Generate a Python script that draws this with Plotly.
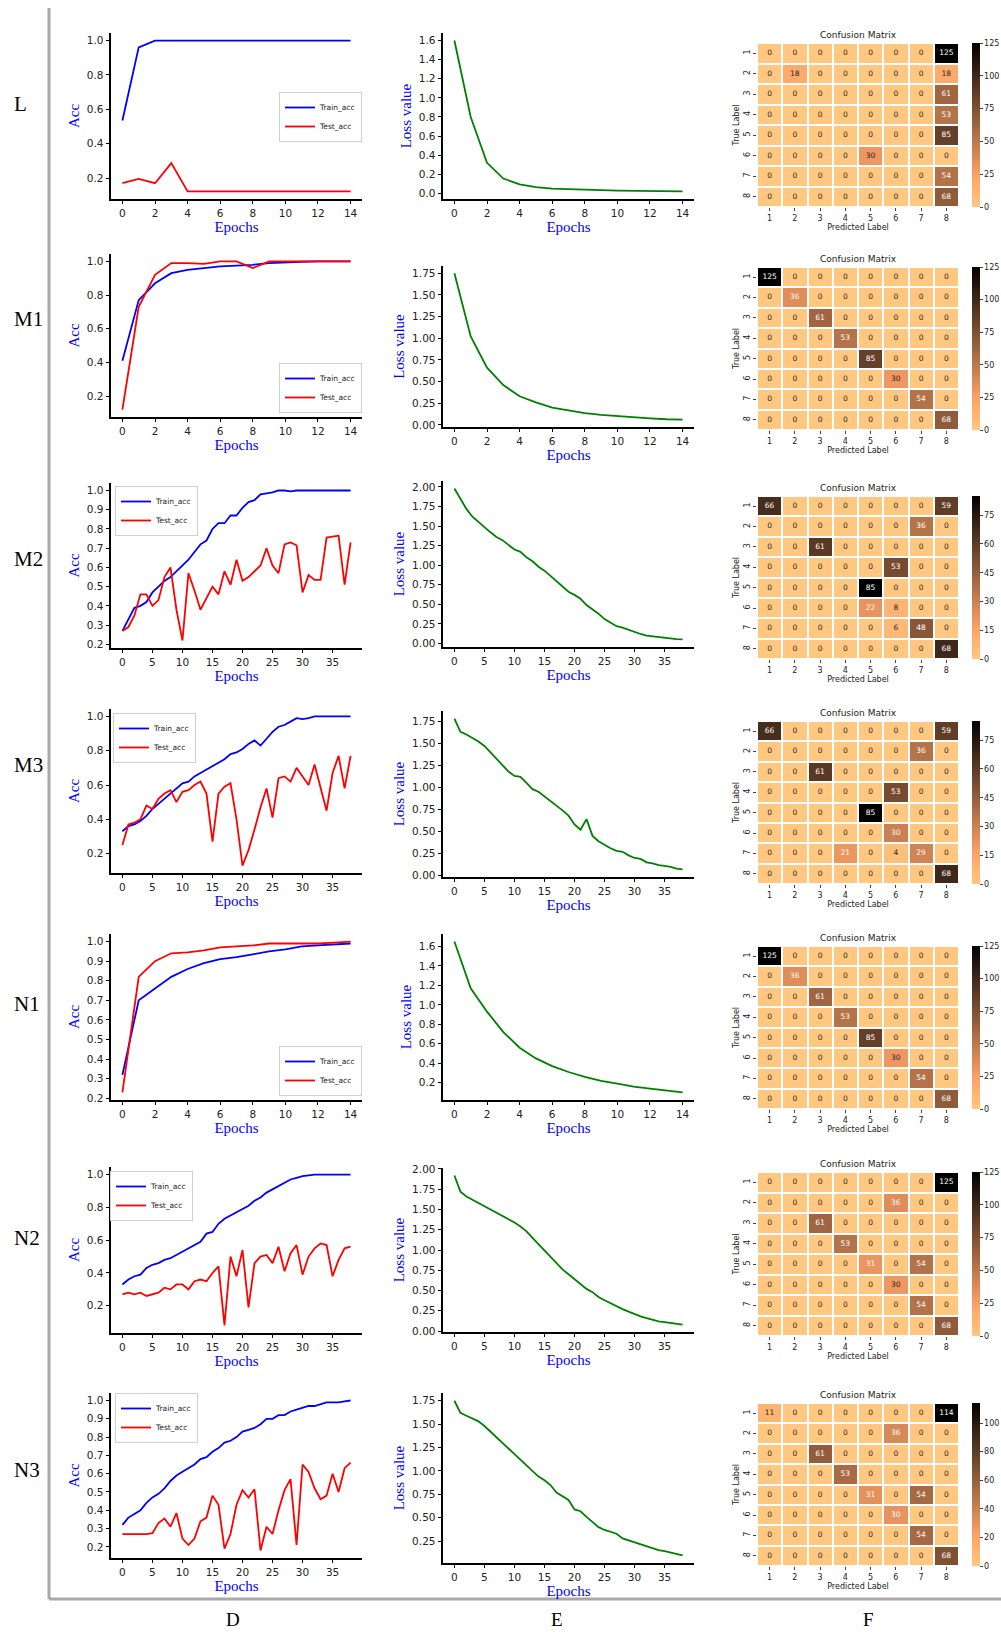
import plotly.graph_objects as go

# ---------------------------------------------------------------- data
row_labels = ["L", "M1", "M2", "M3", "N1", "N2", "N3"]
column_labels = ["D", "E", "F"]
class_labels = ["1", "2", "3", "4", "5", "6", "7", "8"]

l_train_acc = [0.535, 0.96, 1.0, 1.0, 1.0, 1.0, 1.0, 1.0, 1.0, 1.0, 1.0, 1.0, 1.0, 1.0, 1.0]
l_test_acc = [0.17, 0.195, 0.17, 0.287, 0.122, 0.122, 0.122, 0.122, 0.122, 0.122, 0.122, 0.122, 0.122, 0.122, 0.122]
l_loss = [1.60, 0.80, 0.32, 0.155, 0.095, 0.065, 0.05, 0.042, 0.037, 0.033, 0.028, 0.026, 0.023, 0.021, 0.02]

m1_train_acc = [0.41, 0.77, 0.87, 0.93, 0.95, 0.96, 0.97, 0.975, 0.98, 0.99, 0.995, 0.998, 1.0, 1.0, 1.0]
m1_test_acc = [0.12, 0.73, 0.92, 0.99, 0.99, 0.985, 1.0, 1.0, 0.96, 1.0, 1.0, 1.0, 1.0, 1.0, 1.0]
m1_loss = [1.75, 1.02, 0.66, 0.46, 0.33, 0.26, 0.20, 0.17, 0.135, 0.115, 0.10, 0.085, 0.075, 0.065, 0.06]

m2_train_acc = [0.27, 0.33, 0.39, 0.40, 0.42, 0.47, 0.50, 0.53, 0.55, 0.58, 0.61, 0.64, 0.68, 0.72, 0.74,
                0.80, 0.83, 0.83, 0.87, 0.87, 0.91, 0.94, 0.95, 0.98, 0.985, 0.99, 1.0, 1.0, 0.995, 1.0,
                1.0, 1.0, 0.998, 1.0, 1.0, 1.0, 0.998, 1.0, 1.0]
m2_test_acc = [0.27, 0.29, 0.35, 0.46, 0.46, 0.40, 0.43, 0.55, 0.60, 0.38, 0.22, 0.57, 0.48, 0.38, 0.44,
               0.50, 0.46, 0.58, 0.51, 0.64, 0.53, 0.55, 0.58, 0.61, 0.70, 0.61, 0.57, 0.72, 0.73, 0.715,
               0.47, 0.56, 0.535, 0.535, 0.755, 0.76, 0.765, 0.51, 0.73]
m2_loss = [1.98, 1.85, 1.72, 1.62, 1.55, 1.48, 1.42, 1.36, 1.32, 1.26, 1.20, 1.17, 1.10, 1.05, 0.98,
           0.93, 0.86, 0.79, 0.72, 0.66, 0.62, 0.57, 0.49, 0.44, 0.38, 0.31, 0.26, 0.22, 0.20, 0.17,
           0.14, 0.12, 0.10, 0.09, 0.08, 0.07, 0.06, 0.055, 0.05]

m3_train_acc = [0.33, 0.36, 0.37, 0.39, 0.42, 0.46, 0.49, 0.52, 0.55, 0.58, 0.61, 0.62, 0.65, 0.67, 0.69,
                0.71, 0.73, 0.75, 0.78, 0.79, 0.81, 0.84, 0.86, 0.83, 0.87, 0.91, 0.94, 0.95, 0.97, 0.99,
                0.985, 0.99, 1.0, 1.0, 1.0, 1.0, 1.0, 1.0, 1.0]
m3_test_acc = [0.25, 0.37, 0.38, 0.40, 0.48, 0.46, 0.52, 0.55, 0.57, 0.50, 0.56, 0.57, 0.60, 0.62, 0.55,
               0.27, 0.55, 0.59, 0.61, 0.40, 0.13, 0.22, 0.34, 0.47, 0.58, 0.41, 0.64, 0.65, 0.62, 0.70,
               0.65, 0.60, 0.72, 0.58, 0.45, 0.67, 0.77, 0.58, 0.77]
m3_loss = [1.78, 1.63, 1.60, 1.56, 1.52, 1.47, 1.40, 1.33, 1.25, 1.18, 1.13, 1.12, 1.05, 0.98, 0.95,
           0.90, 0.85, 0.79, 0.74, 0.68, 0.58, 0.52, 0.64, 0.45, 0.39, 0.35, 0.31, 0.28, 0.27, 0.23,
           0.20, 0.19, 0.15, 0.14, 0.12, 0.11, 0.10, 0.08, 0.07]

n1_train_acc = [0.32, 0.70, 0.76, 0.82, 0.86, 0.89, 0.91, 0.92, 0.935, 0.95, 0.96, 0.975, 0.98, 0.985, 0.99]
n1_test_acc = [0.23, 0.82, 0.90, 0.94, 0.945, 0.955, 0.97, 0.975, 0.98, 0.99, 0.99, 0.99, 0.99, 0.995, 1.0]
n1_loss = [1.65, 1.17, 0.93, 0.72, 0.56, 0.45, 0.37, 0.31, 0.26, 0.22, 0.19, 0.16, 0.14, 0.12, 0.10]

n2_train_acc = [0.33, 0.36, 0.38, 0.39, 0.43, 0.45, 0.46, 0.48, 0.49, 0.51, 0.53, 0.55, 0.57, 0.59, 0.64,
                0.65, 0.70, 0.73, 0.75, 0.77, 0.79, 0.81, 0.84, 0.86, 0.89, 0.91, 0.93, 0.95, 0.97, 0.98,
                0.99, 0.995, 1.0, 1.0, 1.0, 1.0, 1.0, 1.0, 1.0]
n2_test_acc = [0.27, 0.28, 0.27, 0.28, 0.26, 0.27, 0.28, 0.31, 0.30, 0.33, 0.33, 0.30, 0.35, 0.36, 0.35,
               0.40, 0.44, 0.08, 0.50, 0.38, 0.54, 0.19, 0.46, 0.50, 0.51, 0.46, 0.56, 0.41, 0.52, 0.57,
               0.39, 0.50, 0.55, 0.58, 0.57, 0.38, 0.48, 0.55, 0.56]
n2_loss = [1.92, 1.72, 1.66, 1.62, 1.58, 1.55, 1.51, 1.47, 1.43, 1.38, 1.34, 1.29, 1.23, 1.15, 1.07,
           0.99, 0.91, 0.84, 0.76, 0.70, 0.64, 0.58, 0.52, 0.48, 0.42, 0.38, 0.34, 0.30, 0.27, 0.24,
           0.21, 0.18, 0.16, 0.14, 0.12, 0.11, 0.10, 0.09, 0.08]

n3_train_acc = [0.32, 0.36, 0.38, 0.40, 0.44, 0.47, 0.49, 0.52, 0.56, 0.59, 0.61, 0.63, 0.65, 0.68, 0.69,
                0.72, 0.74, 0.77, 0.78, 0.80, 0.83, 0.84, 0.85, 0.87, 0.90, 0.90, 0.92, 0.92, 0.94, 0.95,
                0.96, 0.97, 0.97, 0.98, 0.99, 0.99, 0.99, 0.995, 1.0]
n3_test_acc = [0.27, 0.27, 0.27, 0.27, 0.27, 0.275, 0.33, 0.355, 0.31, 0.385, 0.245, 0.21, 0.245, 0.34, 0.36,
               0.48, 0.43, 0.19, 0.27, 0.43, 0.51, 0.47, 0.515, 0.18, 0.31, 0.27, 0.40, 0.51, 0.57, 0.21,
               0.65, 0.61, 0.52, 0.46, 0.48, 0.60, 0.50, 0.63, 0.66]
n3_loss = [1.75, 1.62, 1.59, 1.56, 1.53, 1.48, 1.42, 1.36, 1.30, 1.23, 1.17, 1.12, 1.05, 0.99, 0.94,
           0.90, 0.85, 0.77, 0.73, 0.69, 0.59, 0.57, 0.51, 0.46, 0.40, 0.37, 0.35, 0.33, 0.28, 0.26,
           0.24, 0.22, 0.20, 0.18, 0.155, 0.145, 0.13, 0.115, 0.10]

cm_l = [[0, 0, 0, 0, 0, 0, 0, 125], [0, 18, 0, 0, 0, 0, 0, 18], [0, 0, 0, 0, 0, 0, 0, 61],
        [0, 0, 0, 0, 0, 0, 0, 53], [0, 0, 0, 0, 0, 0, 0, 85], [0, 0, 0, 0, 30, 0, 0, 0],
        [0, 0, 0, 0, 0, 0, 0, 54], [0, 0, 0, 0, 0, 0, 0, 68]]
cm_m1 = [[125, 0, 0, 0, 0, 0, 0, 0], [0, 36, 0, 0, 0, 0, 0, 0], [0, 0, 61, 0, 0, 0, 0, 0],
         [0, 0, 0, 53, 0, 0, 0, 0], [0, 0, 0, 0, 85, 0, 0, 0], [0, 0, 0, 0, 0, 30, 0, 0],
         [0, 0, 0, 0, 0, 0, 54, 0], [0, 0, 0, 0, 0, 0, 0, 68]]
cm_m2 = [[66, 0, 0, 0, 0, 0, 0, 59], [0, 0, 0, 0, 0, 0, 36, 0], [0, 0, 61, 0, 0, 0, 0, 0],
         [0, 0, 0, 0, 0, 53, 0, 0], [0, 0, 0, 0, 85, 0, 0, 0], [0, 0, 0, 0, 22, 8, 0, 0],
         [0, 0, 0, 0, 0, 6, 48, 0], [0, 0, 0, 0, 0, 0, 0, 68]]
cm_m3 = [[66, 0, 0, 0, 0, 0, 0, 59], [0, 0, 0, 0, 0, 0, 36, 0], [0, 0, 61, 0, 0, 0, 0, 0],
         [0, 0, 0, 0, 0, 53, 0, 0], [0, 0, 0, 0, 85, 0, 0, 0], [0, 0, 0, 0, 0, 30, 0, 0],
         [0, 0, 0, 21, 0, 4, 29, 0], [0, 0, 0, 0, 0, 0, 0, 68]]
cm_n1 = [[125, 0, 0, 0, 0, 0, 0, 0], [0, 36, 0, 0, 0, 0, 0, 0], [0, 0, 61, 0, 0, 0, 0, 0],
         [0, 0, 0, 53, 0, 0, 0, 0], [0, 0, 0, 0, 85, 0, 0, 0], [0, 0, 0, 0, 0, 30, 0, 0],
         [0, 0, 0, 0, 0, 0, 54, 0], [0, 0, 0, 0, 0, 0, 0, 68]]
cm_n2 = [[0, 0, 0, 0, 0, 0, 0, 125], [0, 0, 0, 0, 0, 36, 0, 0], [0, 0, 61, 0, 0, 0, 0, 0],
         [0, 0, 0, 53, 0, 0, 0, 0], [0, 0, 0, 0, 31, 0, 54, 0], [0, 0, 0, 0, 0, 30, 0, 0],
         [0, 0, 0, 0, 0, 0, 54, 0], [0, 0, 0, 0, 0, 0, 0, 68]]
cm_n3 = [[11, 0, 0, 0, 0, 0, 0, 114], [0, 0, 0, 0, 0, 36, 0, 0], [0, 0, 61, 0, 0, 0, 0, 0],
         [0, 0, 0, 53, 0, 0, 0, 0], [0, 0, 0, 0, 31, 0, 54, 0], [0, 0, 0, 0, 0, 30, 0, 0],
         [0, 0, 0, 0, 0, 0, 54, 0], [0, 0, 0, 0, 0, 0, 0, 68]]

train_accs = [l_train_acc, m1_train_acc, m2_train_acc, m3_train_acc, n1_train_acc, n2_train_acc, n3_train_acc]
test_accs = [l_test_acc, m1_test_acc, m2_test_acc, m3_test_acc, n1_test_acc, n2_test_acc, n3_test_acc]
losses = [l_loss, m1_loss, m2_loss, m3_loss, n1_loss, n2_loss, n3_loss]
matrices = [cm_l, cm_m1, cm_m2, cm_m3, cm_n1, cm_n2, cm_n3]

# ---------------------------------------------------------------- layout / style
W, H = 1001, 1632
ACC_X = (111, 362)
LOSS_X = (443, 694)
HEAT_X = (757, 959)
CBAR_X = 972

# leg = (x, y, xanchor, yanchor) in pixels
geom = [
    dict(acc=(33, 199), loss=(33, 199), heat=(43, 207), lab=104, leg=(362, 117, "right", "middle"), acc_dt=0.2, loss_dt=0.2, cb_dt=25),
    dict(acc=(254, 417), loss=(266, 427), heat=(267, 430), lab=319, leg=(362, 413, "right", "bottom"), acc_dt=0.2, loss_dt=0.25, cb_dt=25),
    dict(acc=(483, 648), loss=(481, 647), heat=(496, 659), lab=559, leg=(115, 486, "left", "top"), acc_dt=0.1, loss_dt=0.25, cb_dt=15),
    dict(acc=(709, 873), loss=(711, 877), heat=(721, 884), lab=765, leg=(113, 713, "left", "top"), acc_dt=0.2, loss_dt=0.25, cb_dt=15),
    dict(acc=(934, 1100), loss=(934, 1100), heat=(946, 1109), lab=1004, leg=(362, 1096, "right", "bottom"), acc_dt=0.1, loss_dt=0.2, cb_dt=25),
    dict(acc=(1167, 1333), loss=(1168, 1332), heat=(1172, 1336), lab=1238, leg=(110, 1171, "left", "top"), acc_dt=0.2, loss_dt=0.25, cb_dt=25),
    dict(acc=(1393, 1558), loss=(1393, 1563), heat=(1403, 1566), lab=1470, leg=(115, 1393, "left", "top"), acc_dt=0.1, loss_dt=0.25, cb_dt=20),
]

TICK_FONT = dict(family="DejaVu Sans", size=10.5, color="#222222")
TITLE_FONT = dict(family="Liberation Serif", size=15, color="blue")
SMALL_FONT = dict(family="DejaVu Sans", size=8, color="#222222")


def xdom(a, b):
    return [a / W, b / W]


def ydom(top, bot):
    return [1 - bot / H, 1 - top / H]


def auto_range(values):
    lo, hi = min(values), max(values)
    m = 0.05 * (hi - lo)
    return [lo - m, hi + m]


def copper_r(frac):
    x = 1 - frac
    r = min(1.0, x / 0.809524)
    return r, 0.7812 * x, 0.4975 * x


def rel_lum(rgb):
    out = []
    for c in rgb:
        out.append(c / 12.92 if c <= 0.03928 else ((c + 0.055) / 1.055) ** 2.4)
    return 0.2126 * out[0] + 0.7152 * out[1] + 0.0722 * out[2]


colorscale = []
for i in range(21):
    t = i / 20
    r, g, b = copper_r(t)
    colorscale.append([t, f"rgb({round(r*255)},{round(g*255)},{round(b*255)})"])

fig = go.Figure()
layout = dict(
    width=W, height=H, margin=dict(l=0, r=0, t=0, b=0),
    paper_bgcolor="white", plot_bgcolor="white", template="none",
    showlegend=True, annotations=[], shapes=[],
)

line_axis = dict(showline=True, linecolor="black", linewidth=1.8, ticks="outside", ticklen=3.5,
                 tickwidth=1, tickcolor="black", showgrid=False, zeroline=False, tickfont=TICK_FONT,
                 automargin=False)

for r, g in enumerate(geom):
    na, nl, nh = 3 * r + 1, 3 * r + 2, 3 * r + 3
    sfx = lambda n: "" if n == 1 else str(n)
    tr, te, lo, cm = train_accs[r], test_accs[r], losses[r], matrices[r]
    ep = list(range(len(tr)))
    xr = auto_range(ep)
    xdt = 2 if len(ep) <= 15 else 5
    leg_name = "legend" if r == 0 else f"legend{r + 1}"

    # accuracy
    fig.add_trace(go.Scatter(x=ep, y=tr, mode="lines", name="Train_acc", line=dict(color="#0000ff", width=1.8),
                             xaxis=f"x{sfx(na)}", yaxis=f"y{sfx(na)}", legend=leg_name))
    fig.add_trace(go.Scatter(x=ep, y=te, mode="lines", name="Test_acc", line=dict(color="#ff0000", width=1.8),
                             xaxis=f"x{sfx(na)}", yaxis=f"y{sfx(na)}", legend=leg_name))
    layout[f"xaxis{sfx(na)}"] = dict(line_axis, domain=xdom(*ACC_X), anchor=f"y{sfx(na)}", range=xr,
                                     tick0=0, dtick=xdt,
                                     title=dict(text="Epochs", font=TITLE_FONT, standoff=2))
    layout[f"yaxis{sfx(na)}"] = dict(line_axis, domain=ydom(*g["acc"]), anchor=f"x{sfx(na)}",
                                     range=auto_range(tr + te), tick0=0, dtick=g["acc_dt"], tickformat=".1f",
                                     title=dict(text="Acc", font=TITLE_FONT, standoff=4))
    lx, ly, xa, ya = g["leg"]
    layout[leg_name] = dict(x=lx / W, y=1 - ly / H, xanchor=xa, yanchor=ya, bgcolor="white",
                            bordercolor="#d0d0d0", borderwidth=1,
                            font=dict(family="DejaVu Sans", size=7.5, color="#222"),
                            tracegroupgap=0, itemwidth=30)

    # loss
    fig.add_trace(go.Scatter(x=ep, y=lo, mode="lines", line=dict(color="#008000", width=1.8), showlegend=False,
                             xaxis=f"x{sfx(nl)}", yaxis=f"y{sfx(nl)}"))
    layout[f"xaxis{nl}"] = dict(line_axis, domain=xdom(*LOSS_X), anchor=f"y{nl}", range=xr, tick0=0, dtick=xdt,
                                title=dict(text="Epochs", font=TITLE_FONT, standoff=2))
    layout[f"yaxis{nl}"] = dict(line_axis, domain=ydom(*g["loss"]), anchor=f"x{nl}", range=auto_range(lo),
                                tick0=0, dtick=g["loss_dt"], tickformat=".1f" if g["loss_dt"] == 0.2 else ".2f",
                                title=dict(text="Loss value", font=TITLE_FONT, standoff=4))

    # confusion matrix
    zmax = max(max(row) for row in cm)
    idx = list(range(1, 9))
    ht, hb = g["heat"]
    fig.add_trace(go.Heatmap(z=cm, x=idx, y=idx, colorscale=colorscale, zmin=0, zmax=zmax, xgap=2, ygap=2,
                             xaxis=f"x{nh}", yaxis=f"y{nh}", hoverinfo="skip",
                             colorbar=dict(x=CBAR_X / W, xanchor="left", y=1 - ht / H, yanchor="top",
                                           len=(hb - ht) / H, lenmode="fraction", thickness=8,
                                           thicknessmode="pixels", xpad=0, ypad=0, outlinewidth=0,
                                           ticks="outside", ticklen=3, tickcolor="#444", tick0=0,
                                           dtick=g["cb_dt"], tickfont=SMALL_FONT)))
    tx, ty, tt, tc = [], [], [], []
    for i, row in enumerate(cm):
        for j, v in enumerate(row):
            tx.append(j + 1)
            ty.append(i + 1)
            tt.append(str(v))
            tc.append("#262626" if rel_lum(copper_r(v / zmax)) > 0.408 else "white")
    fig.add_trace(go.Scatter(x=tx, y=ty, text=tt, mode="text", textposition="middle center",
                             textfont=dict(family="DejaVu Sans", size=7.5, color=tc), showlegend=False,
                             hoverinfo="skip", xaxis=f"x{nh}", yaxis=f"y{nh}"))
    heat_axis = dict(showline=False, showgrid=False, zeroline=False, ticks="outside", ticklen=3, tickwidth=1,
                     tickcolor="#444", tickfont=SMALL_FONT, tickvals=idx, ticktext=class_labels,
                     automargin=False)
    layout[f"xaxis{nh}"] = dict(heat_axis, domain=xdom(*HEAT_X), anchor=f"y{nh}", range=[0.5, 8.5],
                                title=dict(text="Predicted Label", font=SMALL_FONT, standoff=2))
    layout[f"yaxis{nh}"] = dict(heat_axis, domain=ydom(ht, hb), anchor=f"x{nh}", range=[8.5, 0.5],
                                tickangle=-90, title=dict(text="True Label", font=SMALL_FONT, standoff=1))
    layout["annotations"].append(dict(text="Confusion Matrix", x=(HEAT_X[0] + HEAT_X[1]) / 2 / W,
                                      y=1 - (ht - 8) / H, xref="paper", yref="paper", showarrow=False,
                                      xanchor="center", yanchor="middle",
                                      font=dict(family="DejaVu Sans", size=9, color="#222")))
    # row label
    layout["annotations"].append(dict(text=row_labels[r], x=12 / W, y=1 - g["lab"] / H, xref="paper",
                                      yref="paper", showarrow=False, xanchor="left", yanchor="middle",
                                      font=dict(family="Liberation Serif", size=21, color="black")))

for lab, cx in zip(column_labels, [233, 557, 868]):
    layout["annotations"].append(dict(text=lab, x=cx / W, y=1 - 1619 / H, xref="paper", yref="paper",
                                      showarrow=False, xanchor="center", yanchor="middle",
                                      font=dict(family="Liberation Serif", size=19, color="black")))

layout["shapes"] = [
    dict(type="line", xref="paper", yref="paper", x0=49 / W, x1=49 / W, y0=1 - 8 / H, y1=1 - 1599 / H,
         line=dict(color="#a8a8a8", width=3)),
    dict(type="line", xref="paper", yref="paper", x0=49 / W, x1=1.0, y0=1 - 1599 / H, y1=1 - 1599 / H,
         line=dict(color="#a8a8a8", width=3)),
]

fig.update_layout(**layout)
fig.write_html("out.html")
